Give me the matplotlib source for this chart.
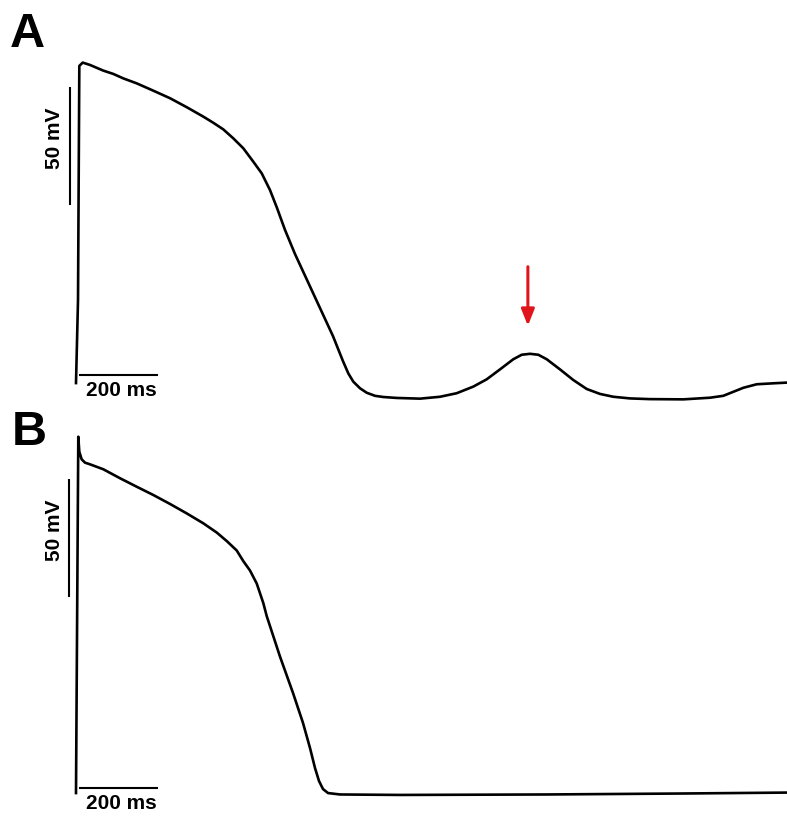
import numpy as np
import matplotlib
matplotlib.use("Agg")
import matplotlib.pyplot as plt

plt.rcParams['font.family'] = ['Liberation Sans', 'DejaVu Sans']

# trace A: action potential followed by a delayed afterdepolarization
t_a = [0, 5.1, 8.4, 17.0, 35.4, 69.1, 94.4, 119.8, 153.7, 195.7, 238.0, 280.3,
       322.3, 347.6, 372.9, 398.2, 423.5, 448.9, 470.1, 491.1, 508.9, 529.1,
       554.4, 584.8, 617.7, 650.6, 675.9, 689.4, 702.0, 719.0, 736.0, 757.0,
       778.0, 811.9, 870.9, 921.5, 963.8, 1005.8, 1039.8, 1073.4, 1107.1,
       1128.4, 1149.4, 1170.4, 1191.7, 1225.3, 1259.0, 1292.9, 1326.6, 1360.3,
       1402.5, 1453.2, 1537.5, 1605.1, 1638.7, 1664.1, 1689.4, 1723.3, 1765.3,
       1800.0]
v_a = [-79.1, -43.9, 55.3, 56.7, 55.7, 53.3, 51.9, 50.0, 47.9, 44.8, 41.6,
       37.8, 33.8, 31.2, 28.4, 24.6, 20.4, 14.7, 9.8, 2.7, -4.9, -14.2, -24.4,
       -35.4, -47.3, -59.2, -69.8, -75.0, -78.5, -81.3, -83.2, -84.5, -85.0,
       -85.4, -85.7, -84.9, -83.4, -80.6, -77.5, -73.3, -69.0, -67.1, -66.7,
       -67.1, -69.0, -73.3, -77.8, -81.6, -83.7, -84.9, -85.6, -85.9, -86.0,
       -85.3, -84.5, -82.8, -81.1, -79.6, -79.2, -78.9]

# trace B: action potential without afterdepolarization
t_b = [0, 5.8, 8.4, 14.4, 22.8, 35.4, 69.1, 111.4, 153.7, 195.7, 238.0, 280.3,
       322.3, 356.2, 381.5, 406.8, 423.5, 440.5, 457.5, 474.2, 482.8, 516.5,
       549.4, 574.7, 592.4, 605.1, 615.2, 625.3, 638.0, 668.4, 820.3, 1191.7,
       1529.1, 1800.0]
v_b = [-84.6, 66.4, 60.0, 56.8, 55.4, 54.7, 52.6, 48.8, 45.2, 41.7, 37.9, 33.9,
       29.7, 25.8, 22.2, 18.2, 13.7, 9.7, 4.2, -4.1, -9.6, -26.8, -42.2, -54.9,
       -65.5, -74.0, -79.5, -82.9, -84.6, -85.2, -85.4, -85.2, -84.8, -84.4]

dad_time = 1149      # ms, peak of the afterdepolarization
dad_peak = -66.7     # mV

bar_mv = 50
bar_ms = 200

W, H = 787, 816
px_ms = 0.395        # pixels per ms
px_mv = 2.36         # pixels per mV
x0 = 76              # pixel column of t = 0

fig = plt.figure(figsize=(W / 100, H / 100), dpi=100)


def panel(top, bottom, rest_px):
    # axes spanning figure rows top..bottom with -85 mV at pixel row rest_px
    ax = fig.add_axes([0, 1 - bottom / H, 1, (bottom - top) / H])
    ax.set_xlim(-x0 / px_ms, (W - x0) / px_ms)
    ax.set_ylim(-85 - (bottom - rest_px) / px_mv, -85 + (rest_px - top) / px_mv)
    ax.axis('off')
    return ax


axA = panel(0, 408, 397)
axB = panel(408, 816, 794)

trace_kw = dict(color='black', lw=1.9, solid_joinstyle='round')
axA.plot(t_a, v_a, **trace_kw)
axB.plot(t_b, v_b, **trace_kw)

# scale bars
bar_kw = dict(color='black', lw=1.5, solid_capstyle='butt')
text_kw = dict(fontsize=15, fontweight='bold')

axA.plot([-15.2, -15.2], [-3.6, -3.6 + bar_mv], **bar_kw)
axA.plot([7.6, 7.6 + bar_ms], [-75.7, -75.7], **bar_kw)
axA.text(-55, -3.6 + bar_mv / 2 + 3.4, '%d mV' % bar_mv, rotation=90,
         ha='center', va='center', **text_kw)
axA.text(7.6 + bar_ms / 2 + 8, -78.3, '%d ms' % bar_ms, ha='center', va='top', **text_kw)

axB.plot([-17.7, -17.7], [-1.5, -1.5 + bar_mv], **bar_kw)
axB.plot([7.6, 7.6 + bar_ms], [-82.5, -82.5], **bar_kw)
axB.text(-55, -1.5 + bar_mv / 2 + 3.4, '%d mV' % bar_mv, rotation=90,
         ha='center', va='center', **text_kw)
axB.text(7.6 + bar_ms / 2 + 8, -85.0, '%d ms' % bar_ms, ha='center', va='top', **text_kw)

# red arrow over the afterdepolarization
axA.annotate('', xy=(dad_time - 5, dad_peak + 11.9), xytext=(dad_time - 5, dad_peak + 36.9),
             arrowprops=dict(arrowstyle='-|>,head_length=0.55,head_width=0.22',
                             mutation_scale=18, color='#e0151b', lw=2.2,
                             shrinkA=0, shrinkB=0))

fig.text(10 / W, 1 - 47 / H, 'A', fontsize=35, fontweight='bold', va='baseline')
fig.text(12 / W, 1 - 445 / H, 'B', fontsize=35, fontweight='bold', va='baseline')

fig.savefig('out.png', dpi=100, facecolor='white')
